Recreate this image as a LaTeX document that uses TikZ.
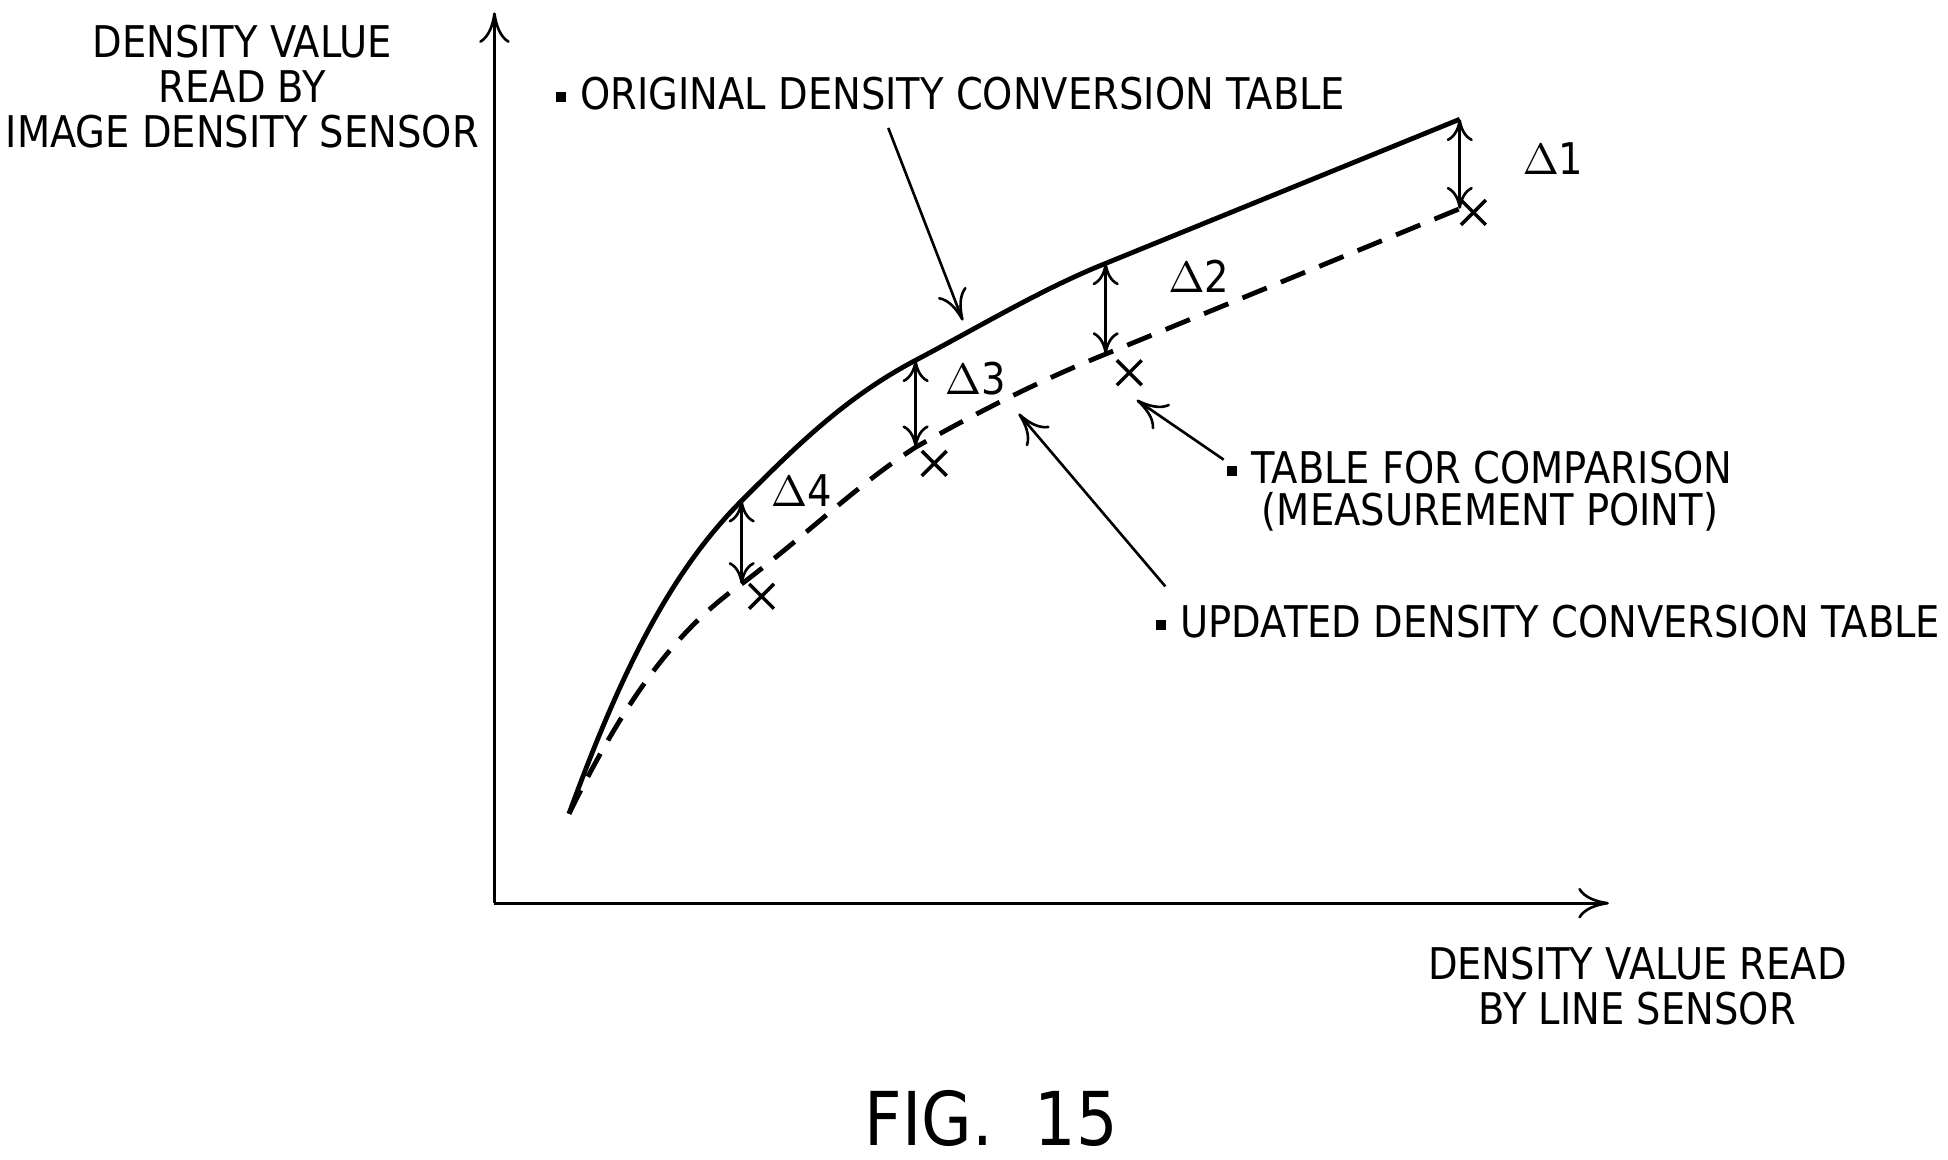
\documentclass[tikz,border=0pt]{standalone}
\usepackage{fontspec}
\setmainfont{DejaVu Sans}[FakeStretch=0.88]
\usetikzlibrary{arrows.meta}
\newcommand{\blt}{\raisebox{0.3ex}{\rule{0.22em}{0.22em}}\,\,}
\begin{document}
\begin{tikzpicture}[x=0.01cm,y=-0.01cm,
  lbl/.style={font=\fontsize{10}{10.3}\selectfont,inner sep=0pt},
  arr/.style={-{To[length=7pt,width=7pt]},line width=0.6pt},
  darr/.style={{To[length=5pt,width=6pt]}-{To[length=5pt,width=6pt]},line width=0.6pt},
  crv/.style={line width=1.1pt}]
\useasboundingbox (0,0) rectangle (1568,933);
\coordinate (O) at (398,727);
\coordinate (Ytop) at (398,10);
\coordinate (Xend) at (1295,727);
\draw[arr] (O) -- (Ytop);
\draw[arr] (O) -- (Xend);
\draw[crv] (458,655) .. controls (500,540) and (540,460) .. (597,403)
  .. controls (640,360) and (680,320) .. (737,290)
  .. controls (790,262) and (840,232) .. (890,212)
  -- (1175,96);
\draw[crv,dash pattern=on 6pt off 3.5pt] (458,655) .. controls (500,570) and (540,510) .. (597,470)
  .. controls (650,430) and (690,390) .. (737,360)
  .. controls (790,330) and (840,305) .. (890,285)
  -- (1175,168);
\foreach \n/\x/\y in {a/613/480,b/752/373,c/909/300,d/1186/171}{
  \node[inner sep=0pt] (\n) at (\x,\y) {};
  \draw[line width=0.8pt] (\x-10,\y-10) -- (\x+10,\y+10) (\x-10,\y+10) -- (\x+10,\y-10);}
\foreach \x/\a/\b in {1175/96/168,890/212/285,737/290/360,597/403/470}{
  \coordinate (t\x) at (\x,\a); \coordinate (b\x) at (\x,\b);
  \draw[darr] (t\x) -- (b\x);}
\node[lbl] (d1) at (1250,128) {$\Delta$1};
\node[lbl] (d2) at (965,222) {$\Delta$2};
\node[lbl] (d3) at (785,305) {$\Delta$3};
\node[lbl] (d4) at (645,395) {$\Delta$4};
\node[lbl,anchor=west] (orig) at (447,75) {\blt ORIGINAL DENSITY CONVERSION TABLE};
\coordinate (oe) at (775,258);
\draw[arr] (715,103) -- (oe);
\node[lbl,anchor=west] (cmp) at (987,376) {\blt TABLE FOR COMPARISON};
\node[lbl,anchor=west] (mp) at (1015,412) {(MEASUREMENT POINT)};
\coordinate (ce) at (915,322);
\draw[arr] (985,370) -- (ce);
\node[lbl,anchor=west] (upd) at (930,500) {\blt UPDATED DENSITY CONVERSION TABLE};
\coordinate (ue) at (820,333);
\draw[arr] (938,472) -- (ue);
\node[lbl,align=center] (yl) at (195,70) {DENSITY VALUE\\READ BY\\IMAGE DENSITY SENSOR};
\node[lbl,align=center] (xl) at (1318,794) {DENSITY VALUE READ\\BY LINE SENSOR};
\node[lbl,font=\fontsize{17}{20}\selectfont] (fig) at (798,900) {FIG.\ \ 15};
\end{tikzpicture}
\end{document}
